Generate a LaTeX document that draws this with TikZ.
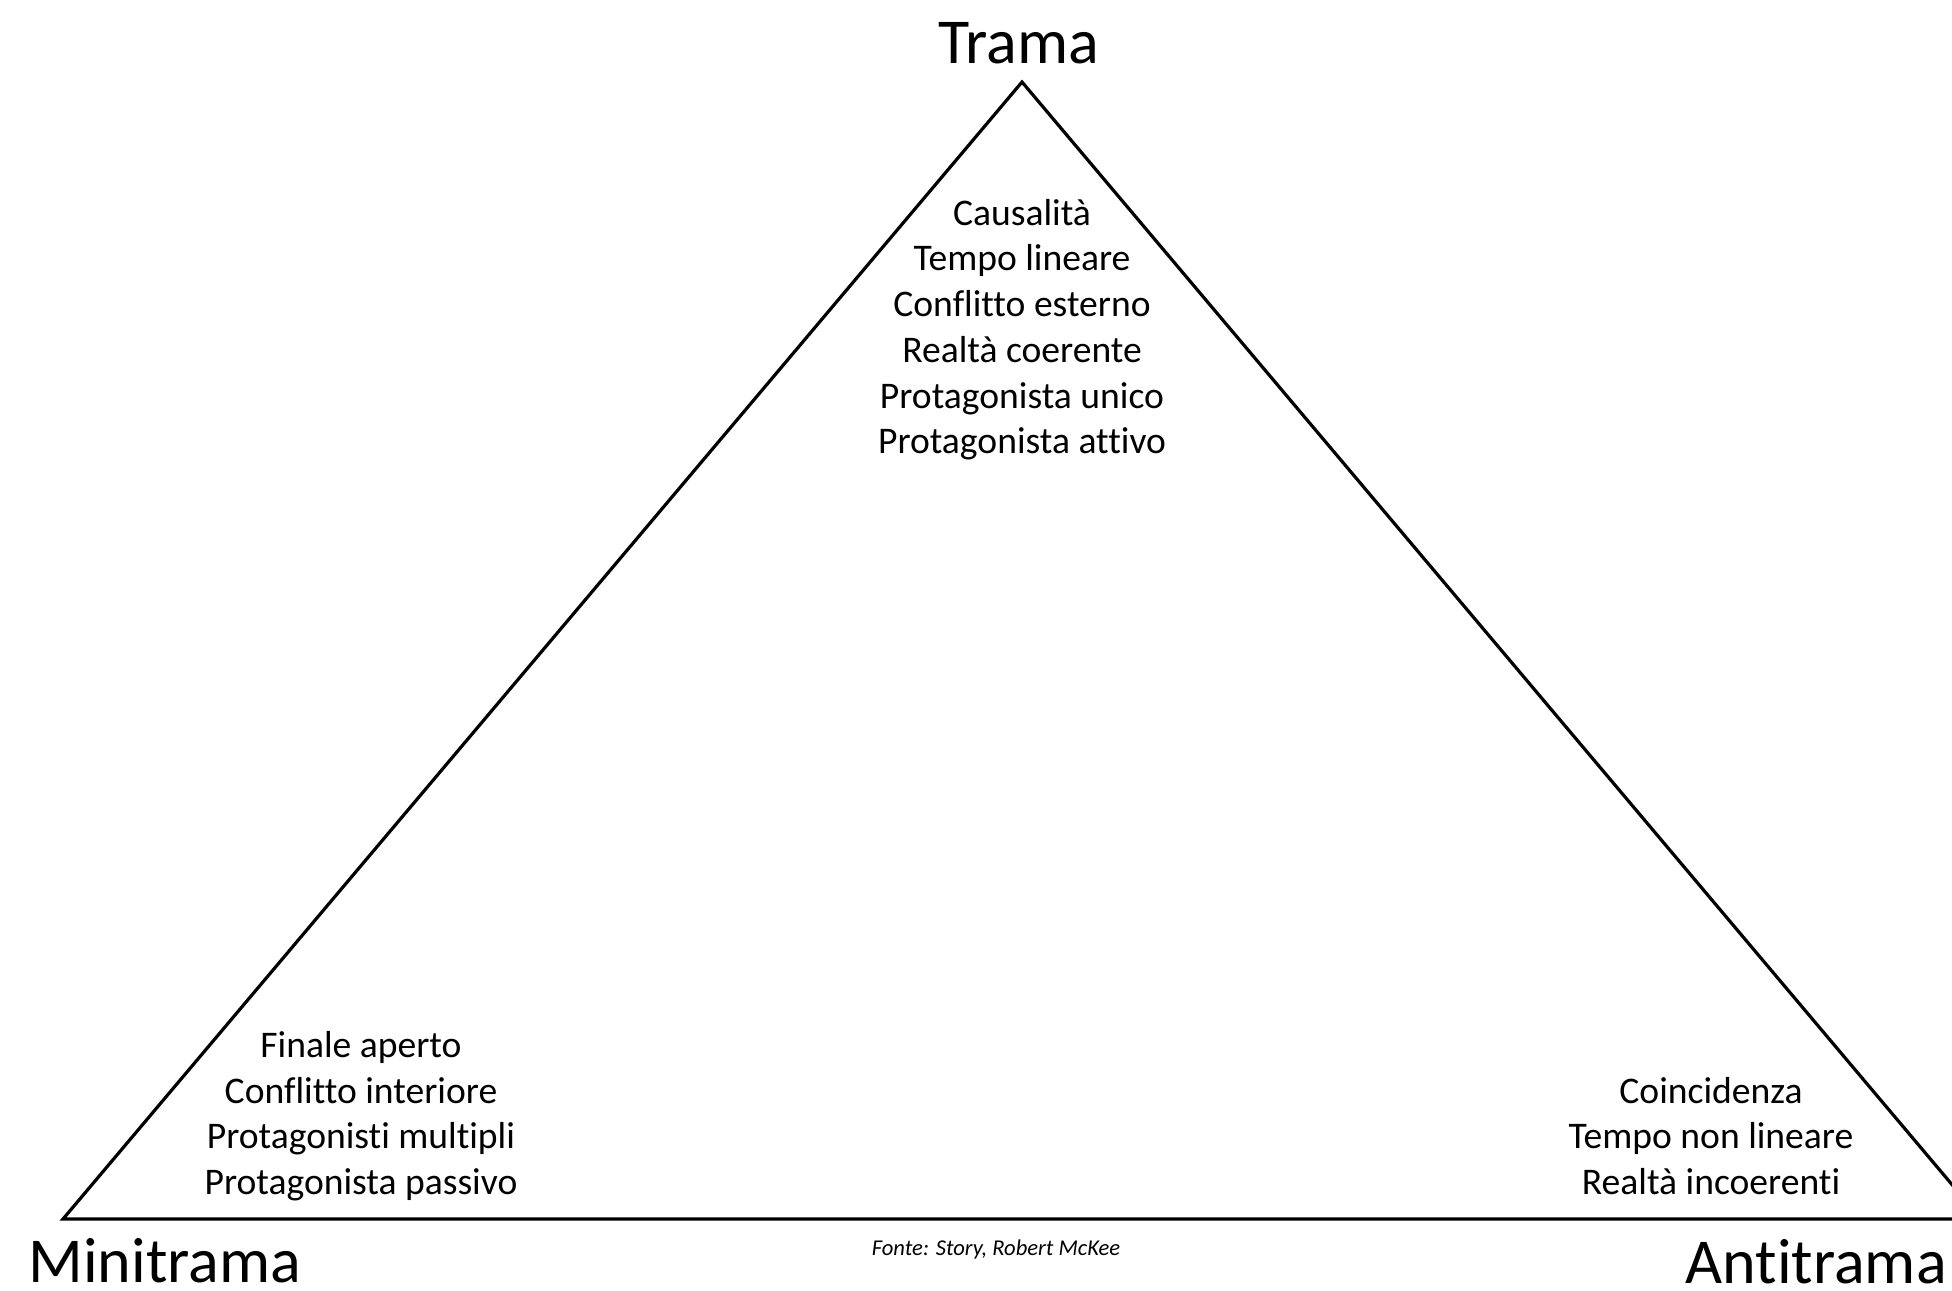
\documentclass[tikz,border=0pt]{standalone}
\usepackage{fontspec}
\setmainfont{Carlito}[Ligatures=NoCommon]
\begin{document}
\begin{tikzpicture}[x=0.5pt,y=-0.5pt,
  corner/.style={anchor=base,inner sep=0pt,font=\fontsize{32}{38}\selectfont},
  item/.style={anchor=base,inner sep=0pt,font=\fontsize{18.8}{22}\selectfont},
  src/.style={anchor=base,inner sep=0pt,font=\fontsize{11.3}{13}\selectfont\itshape}]
\useasboundingbox (0,0) rectangle (1952,1290);
\fill[white] (0,0) rectangle (1952,1290);
\coordinate (A) at (1022,82);
\coordinate (L) at (63,1219);
\coordinate (R) at (1981,1219);
\begin{scope}
\clip (0,0) rectangle (1952,1290);
\draw[line width=1.6pt,line join=miter] (L) -- (A) -- (R) -- cycle;
\end{scope}
\node[corner] (trama) at (1019,63) {Trama};
\node[corner,anchor=base west] (mini) at (28,1282) {Minitrama};
\node[corner,anchor=base east] (anti) at (1947,1283) {Antitrama};
\node[item] (t1) at (1022,225) {Causalità};
\node[item] (t2) at (1022,270) {Tempo lineare};
\node[item] (t3) at (1022,316) {Conflitto esterno};
\node[item] (t4) at (1022,362) {Realtà coerente};
\node[item] (t5) at (1022,408) {Protagonista unico};
\node[item] (t6) at (1022,453) {Protagonista attivo};
\node[item] (m1) at (361,1057) {Finale aperto};
\node[item] (m2) at (361,1103) {Conflitto interiore};
\node[item] (m3) at (361,1148) {Protagonisti multipli};
\node[item] (m4) at (361,1194) {Protagonista passivo};
\node[item] (a1) at (1711,1103) {Coincidenza};
\node[item] (a2) at (1711,1148) {Tempo non lineare};
\node[item] (a3) at (1711,1194) {Realtà incoerenti};
\node[src] (fonte) at (996,1255) {Fonte: Story, Robert McKee};
\end{tikzpicture}
\end{document}
